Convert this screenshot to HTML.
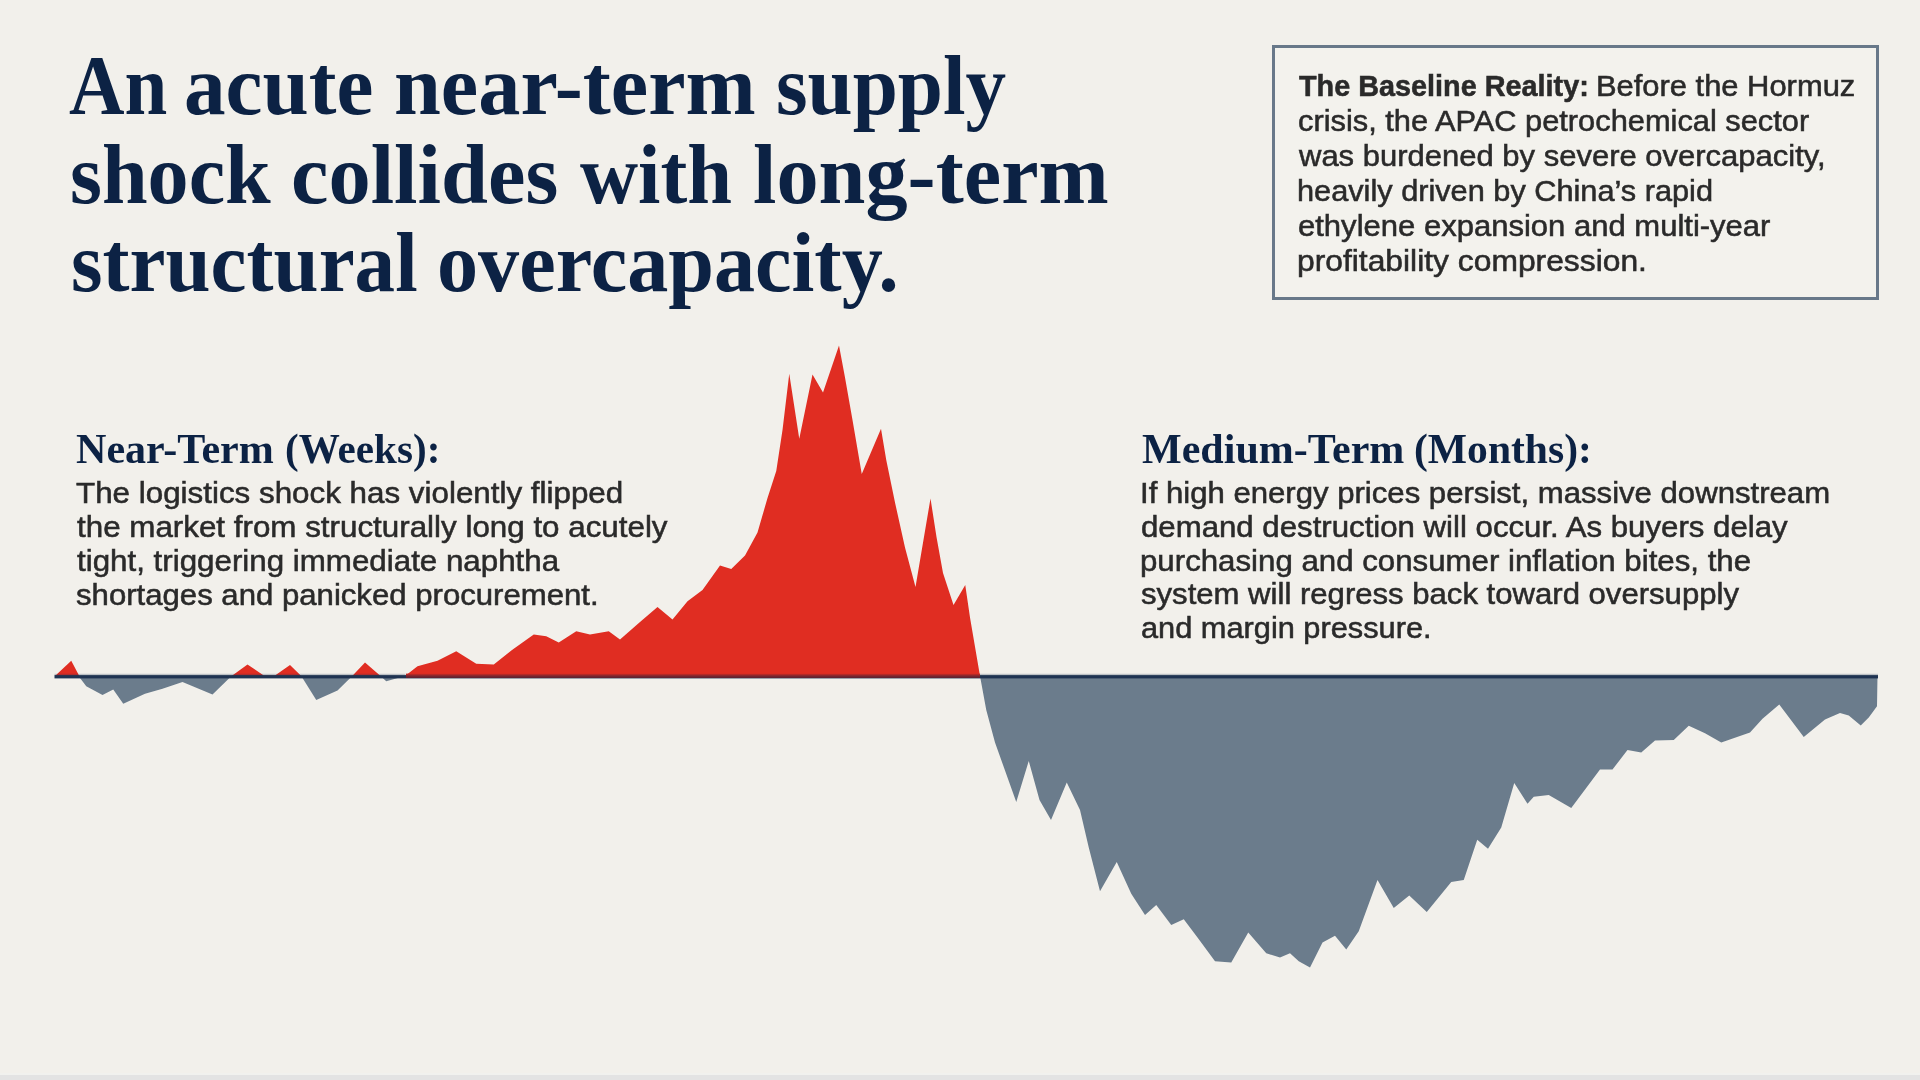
<!DOCTYPE html>
<html lang="en">
<head>
<meta charset="utf-8">
<title>An acute near-term supply shock collides with long-term structural overcapacity</title>
<style>html,body{margin:0;padding:0}
body{width:1920px;height:1080px;overflow:hidden;background:#f2f0eb;position:relative}
.ln{position:absolute;left:0;top:0;margin:0;padding:0;font-weight:normal;font-size:0;line-height:0}
.l{position:absolute;display:block;white-space:nowrap;transform-origin:0 0;margin:0;padding:0}
.n{color:#0c2244}
.d{color:#2a2a2a;-webkit-text-stroke:0.55px #2a2a2a}
.serif{font-family:"Liberation Serif",serif;font-weight:bold}
.sans{font-family:"Liberation Sans",sans-serif}
.tt{font-size:85px;line-height:94.13px}
.hh{font-size:43.2px;line-height:47.84px}
.bb{font-size:30.2px;line-height:33.74px}
.box{position:absolute;left:1272px;top:45.2px;width:600.7px;height:248.5px;border:3.4px solid #687889;background:#f3f2ed}
.foot{position:absolute;left:0;top:1075.4px;width:1920px;height:4.6px;background:#e3e3e3}
.foot2{position:absolute;left:0;top:1072.5px;width:1920px;height:3px;background:#f1f1ee}
svg{position:absolute;left:0;top:0}
.ln,svg,.box{filter:blur(0.4px)}
</style>
</head>
<body>
<div class="box"></div>
<svg width="1920" height="1080" viewBox="0 0 1920 1080">
<defs>
<clipPath id="up"><rect x="0" y="0" width="1920" height="676.5"/></clipPath>
<clipPath id="dn"><rect x="0" y="676.5" width="1920" height="404"/></clipPath>
<linearGradient id="mr" x1="0" y1="0" x2="0" y2="1"><stop offset="0" stop-color="#d52b22"/><stop offset="0.55" stop-color="#7a2630"/><stop offset="1" stop-color="#5a2032"/></linearGradient>
</defs>
<path d="M55,676 L71.25,660.75 L78.75,675 L80,678 L86.25,686.25 L102.5,695 L113.25,689.5 L123.25,703.75 L145,693.75 L162.5,688.75 L182.5,682 L212.5,694.5 L231.25,676.25 L247.5,664.5 L263.75,675.5 L275,675.5 L290,665 L301.25,676 L316.25,700 L337.5,690.5 L351.25,677 L365,662.5 L380,675.5 L386.25,681.25 L405,676 L417.5,666.25 L437.5,660.75 L456.25,651.25 L476.25,663.75 L493.75,664.5 L512,650 L533.75,634.5 L546.25,636.25 L558.75,642.5 L576.25,631.25 L590,634.5 L608.75,631.25 L620,639.5 L640,622 L657.5,607 L672.5,619.5 L687.5,601.25 L702.5,590 L720,565.5 L731.25,569 L745,555.5 L757.5,532.5 L767.5,498 L776.25,471 L782.5,430 L789.25,373.75 L799.25,438.75 L812.5,374.5 L823,392.5 L839,345.5 L845,377.5 L852.5,420 L861.75,474 L881,428.75 L886.25,460 L895,502.5 L905,547.5 L915.5,587 L930.5,498.5 L936.5,537 L943,573 L953.5,605 L965.25,585 L970,617.5 L980,676 L986.25,710 L995,742.5 L1016.25,802 L1028.75,761 L1039.5,800 L1051,820 L1066.75,782.5 L1080,810 L1088.75,847.5 L1100,891.25 L1116.75,862 L1131.25,893.75 L1145,915 L1156.25,905 L1171.25,925 L1183.75,919.25 L1197.5,937.5 L1215,961.25 L1231.25,962.5 L1248.25,932.5 L1266.25,953.25 L1280,957.5 L1290,953.25 L1298.75,961.25 L1310,967.5 L1322.5,942.5 L1335,935.75 L1346.25,949.5 L1358.75,931.25 L1377.5,880 L1393.75,908 L1409.25,895.5 L1426.75,912 L1451.25,882 L1463.75,880 L1477.25,839.75 L1488,848.75 L1501.25,827.5 L1514.25,783 L1527.5,803.75 L1533.75,796.75 L1548.75,795 L1571.25,808 L1600,769.5 L1612.5,769.5 L1627.5,750 L1641.25,752.5 L1655,740.5 L1673.75,740 L1688.75,725.75 L1705,733.25 L1721.25,742.5 L1750,732.5 L1762.5,718.75 L1779.25,704.5 L1803.75,737 L1825,719.5 L1840,713 L1848.75,715.5 L1860.75,725.5 L1868.75,717.5 L1877,706.25 L1877.5,676 Z" fill="#e02d22" clip-path="url(#up)"/>
<path d="M55,676 L71.25,660.75 L78.75,675 L80,678 L86.25,686.25 L102.5,695 L113.25,689.5 L123.25,703.75 L145,693.75 L162.5,688.75 L182.5,682 L212.5,694.5 L231.25,676.25 L247.5,664.5 L263.75,675.5 L275,675.5 L290,665 L301.25,676 L316.25,700 L337.5,690.5 L351.25,677 L365,662.5 L380,675.5 L386.25,681.25 L405,676 L417.5,666.25 L437.5,660.75 L456.25,651.25 L476.25,663.75 L493.75,664.5 L512,650 L533.75,634.5 L546.25,636.25 L558.75,642.5 L576.25,631.25 L590,634.5 L608.75,631.25 L620,639.5 L640,622 L657.5,607 L672.5,619.5 L687.5,601.25 L702.5,590 L720,565.5 L731.25,569 L745,555.5 L757.5,532.5 L767.5,498 L776.25,471 L782.5,430 L789.25,373.75 L799.25,438.75 L812.5,374.5 L823,392.5 L839,345.5 L845,377.5 L852.5,420 L861.75,474 L881,428.75 L886.25,460 L895,502.5 L905,547.5 L915.5,587 L930.5,498.5 L936.5,537 L943,573 L953.5,605 L965.25,585 L970,617.5 L980,676 L986.25,710 L995,742.5 L1016.25,802 L1028.75,761 L1039.5,800 L1051,820 L1066.75,782.5 L1080,810 L1088.75,847.5 L1100,891.25 L1116.75,862 L1131.25,893.75 L1145,915 L1156.25,905 L1171.25,925 L1183.75,919.25 L1197.5,937.5 L1215,961.25 L1231.25,962.5 L1248.25,932.5 L1266.25,953.25 L1280,957.5 L1290,953.25 L1298.75,961.25 L1310,967.5 L1322.5,942.5 L1335,935.75 L1346.25,949.5 L1358.75,931.25 L1377.5,880 L1393.75,908 L1409.25,895.5 L1426.75,912 L1451.25,882 L1463.75,880 L1477.25,839.75 L1488,848.75 L1501.25,827.5 L1514.25,783 L1527.5,803.75 L1533.75,796.75 L1548.75,795 L1571.25,808 L1600,769.5 L1612.5,769.5 L1627.5,750 L1641.25,752.5 L1655,740.5 L1673.75,740 L1688.75,725.75 L1705,733.25 L1721.25,742.5 L1750,732.5 L1762.5,718.75 L1779.25,704.5 L1803.75,737 L1825,719.5 L1840,713 L1848.75,715.5 L1860.75,725.5 L1868.75,717.5 L1877,706.25 L1877.5,676 Z" fill="#6b7c8c" clip-path="url(#dn)"/>
<rect x="54.5" y="673.8" width="351" height="1.4" fill="#1f3352" opacity="0.25"/>
<rect x="980" y="673.8" width="898" height="1.4" fill="#1f3352" opacity="0.25"/>
<rect x="54.5" y="675.1" width="1823.5" height="3.3" fill="#1f3352"/>
<rect x="406" y="673.6" width="574" height="4.4" fill="url(#mr)"/>
</svg>
<h1 class="ln">
<span class="l serif tt n" style="left:68.75px;top:38.01px;transform:scaleX(0.9039)">An</span> <span class="l serif tt n" style="left:184.10px;top:38.01px;transform:scaleX(0.9788)">acute</span> <span class="l serif tt n" style="left:393.68px;top:38.01px;transform:scaleX(0.9912)">near-term</span> <span class="l serif tt n" style="left:776.43px;top:38.01px;transform:scaleX(0.9546)">supply</span>
<span class="l serif tt n" style="left:70.42px;top:126.56px;transform:scaleX(0.9659)">shock</span> <span class="l serif tt n" style="left:290.66px;top:126.56px;transform:scaleX(0.9929)">collides</span> <span class="l serif tt n" style="left:580.00px;top:126.56px;transform:scaleX(0.9466)">with</span> <span class="l serif tt n" style="left:752.68px;top:126.56px;transform:scaleX(0.9916)">long-term</span>
<span class="l serif tt n" style="left:71.03px;top:215.06px;transform:scaleX(0.9536)">structural</span> <span class="l serif tt n" style="left:437.43px;top:215.06px;transform:scaleX(0.9669)">overcapacity.</span>
</h1>
<h2 class="ln">
<span class="l serif hh n" style="left:75.84px;top:425.20px;transform:scaleX(0.9742)">Near-Term</span> <span class="l serif hh n" style="left:284.71px;top:425.20px;transform:scaleX(0.9524)">(Weeks):</span>
</h2>
<p class="ln">
<span class="l sans bb d" style="left:76.01px;top:476.26px;transform:scaleX(1.0386)">The logistics shock has violently flipped</span>
<span class="l sans bb d" style="left:76.50px;top:510.11px;transform:scaleX(1.0383)">the market from structurally long to acutely</span>
<span class="l sans bb d" style="left:76.50px;top:543.96px;transform:scaleX(1.0372)">tight, triggering immediate naphtha</span>
<span class="l sans bb d" style="left:76.01px;top:577.81px;transform:scaleX(1.0312)">shortages and panicked procurement.</span>
</p>
<h2 class="ln">
<span class="l serif hh n" style="left:1141.64px;top:425.20px;transform:scaleX(0.9737)">Medium-Term</span> <span class="l serif hh n" style="left:1414.30px;top:425.20px;transform:scaleX(0.9628)">(Months):</span>
</h2>
<p class="ln">
<span class="l sans bb d" style="left:1139.87px;top:476.06px;transform:scaleX(1.0308)">If high energy prices persist, massive downstream</span>
<span class="l sans bb d" style="left:1140.93px;top:509.81px;transform:scaleX(1.0331)">demand destruction will occur. As buyers delay</span>
<span class="l sans bb d" style="left:1139.95px;top:543.56px;transform:scaleX(1.0345)">purchasing and consumer inflation bites, the</span>
<span class="l sans bb d" style="left:1141.41px;top:577.26px;transform:scaleX(1.0301)">system will regress back toward oversupply</span>
<span class="l sans bb d" style="left:1140.94px;top:610.96px;transform:scaleX(1.0185)">and margin pressure.</span>
</p>
<p class="ln">
<b class="l sans bb d" style="left:1298.50px;top:69.16px;transform:scaleX(0.9543)">The Baseline Reality:</b> <span class="l sans bb d" style="left:1595.59px;top:69.16px;transform:scaleX(1.0233)">Before the Hormuz</span>
<span class="l sans bb d" style="left:1297.54px;top:104.11px;transform:scaleX(1.0202)">crisis, the APAC petrochemical sector</span>
<span class="l sans bb d" style="left:1298.98px;top:139.06px;transform:scaleX(1.0267)">was burdened by severe overcapacity,</span>
<span class="l sans bb d" style="left:1296.58px;top:174.01px;transform:scaleX(1.0174)">heavily driven by China’s rapid</span>
<span class="l sans bb d" style="left:1297.53px;top:208.96px;transform:scaleX(1.0275)">ethylene expansion and multi-year</span>
<span class="l sans bb d" style="left:1296.51px;top:243.91px;transform:scaleX(1.0533)">profitability compression.</span>
</p>
<div class="foot2"></div><div class="foot"></div>
</body></html>
